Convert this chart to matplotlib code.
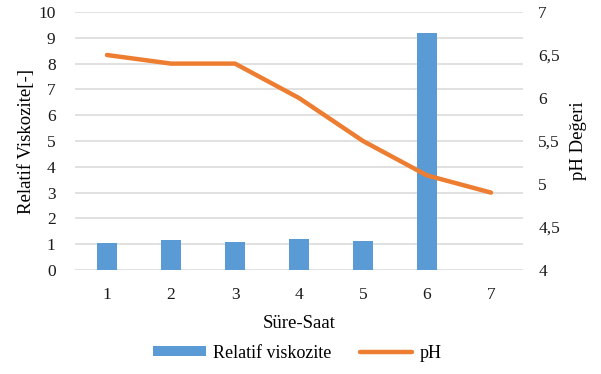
import matplotlib.pyplot as plt
import matplotlib.ticker as tck
import numpy as np

plt.rcParams['font.family'] = ['Liberation Serif', 'DejaVu Serif']

hours = ["1", "2", "3", "4", "5", "6", "7"]
viscosity = [1.03, 1.16, 1.10, 1.21, 1.14, 9.19, 0]
ph = [6.5, 6.4, 6.4, 6.0, 5.5, 5.1, 4.9]

fig = plt.figure(figsize=(6.01, 3.74), dpi=100)
ax = fig.add_axes([75 / 601, 104 / 374, 448 / 601, 258 / 374])
ax2 = ax.twinx()

x = np.arange(len(hours))
bars = ax.bar(x, viscosity, width=0.3, color="#5b9bd5", label="Relatif viskozite", zorder=3)
line, = ax2.plot(x, ph, color="#ed7d31", lw=3.2, solid_capstyle="round", label="pH", zorder=4)

ax.set_xlim(-0.5, 6.5)
ax.set_ylim(0, 10)
ax.set_yticks(range(0, 11))
ax2.set_ylim(4, 7)
ax2.set_yticks(np.arange(4, 7.01, 0.5))
ax2.yaxis.set_major_formatter(tck.FuncFormatter(lambda v, p: ("%g" % v).replace(".", ",")))

ax.set_xticks(x)
ax.set_xticklabels(hours)
ax.yaxis.grid(True, color="#d9d9d9", lw=1.1, zorder=0)
ax.set_axisbelow(True)

for a in (ax, ax2):
    for s in a.spines.values():
        s.set_visible(False)
    a.tick_params(length=0, labelsize=12.5, colors="#1a1a1a")
ax.tick_params(axis="y", pad=14)
ax.tick_params(axis="x", pad=12)
ax2.tick_params(axis="y", pad=11)

ax.set_ylabel("Relatif Viskozite[-]", fontsize=13.5, labelpad=2)
ax2.set_ylabel("pH Değeri", fontsize=13.5, labelpad=7)
ax.set_xlabel("Süre-Saat", fontsize=13.5, labelpad=9)

ax.set_zorder(ax2.get_zorder() - 1)
ax.patch.set_visible(False)

fig.legend([bars, line], ["Relatif viskozite", "pH"], loc="center", bbox_to_anchor=(0.495, 21 / 374),
           ncol=2, frameon=False, fontsize=13, handlelength=2.9, handleheight=0.5,
           columnspacing=1.6, handletextpad=0.4)

fig.savefig("out.png", dpi=100)
